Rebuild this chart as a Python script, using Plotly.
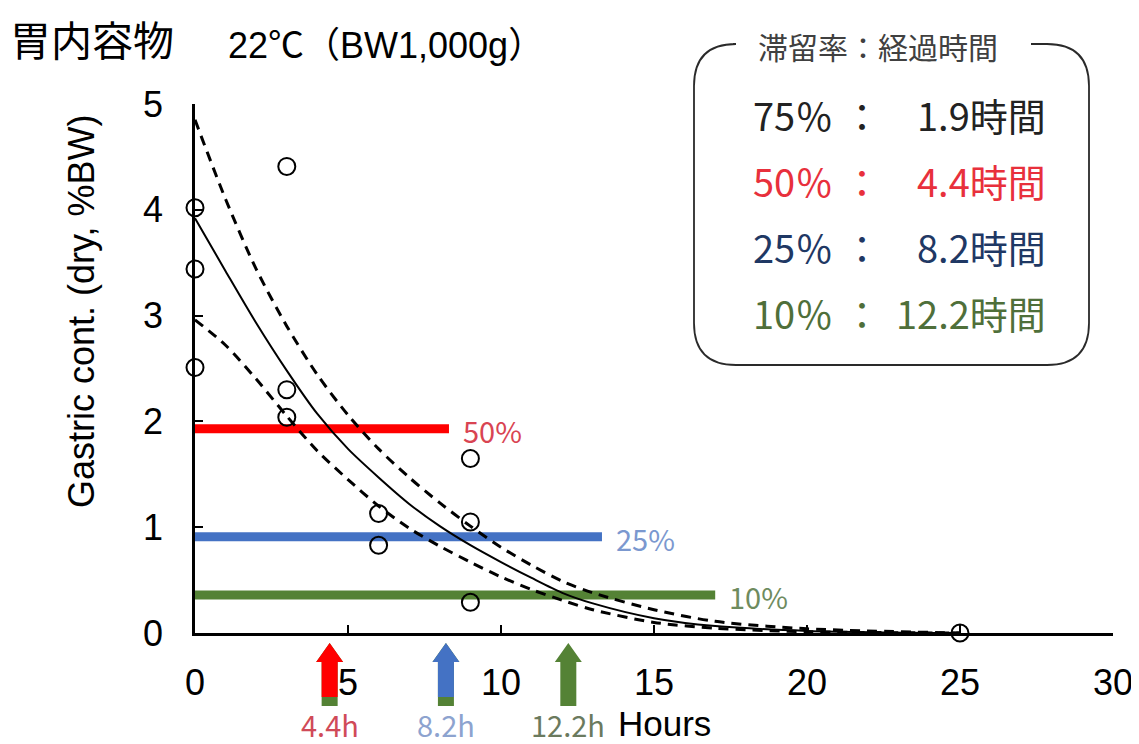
import plotly.graph_objects as go

# ---------------- data ----------------
obs_hours = [0, 0, 0, 3, 3, 3, 6, 6, 9, 9, 9, 25]
obs_content = [4.02, 3.44, 2.51, 4.41, 2.30, 2.04, 1.13, 0.83, 1.65, 1.05, 0.29, 0.0]

fit_hours = [0, 1, 2, 3, 4, 5, 6, 7, 8, 9, 10, 11, 12, 13, 15, 17, 20, 25]
fit_mean = [3.92, 3.42, 2.93, 2.48, 2.07, 1.74, 1.47, 1.22, 1.01, 0.83, 0.67, 0.52, 0.38, 0.28, 0.14, 0.065, 0.02, 0.0]
fit_upper = [4.85, 4.10, 3.44, 2.90, 2.44, 2.06, 1.74, 1.47, 1.23, 1.01, 0.81, 0.64, 0.49, 0.38, 0.22, 0.11, 0.04, 0.0]
fit_lower = [2.96, 2.72, 2.40, 2.05, 1.72, 1.45, 1.20, 0.99, 0.82, 0.67, 0.53, 0.41, 0.31, 0.22, 0.10, 0.045, 0.012, 0.0]

level_labels = ["50%", "25%", "10%"]
level_values = [1.93, 0.91, 0.36]
level_bar_end = [8.3, 13.3, 17.0]

arrow_hours = [4.4, 8.2, 12.2]
arrow_labels = ["4.4h", "8.2h", "12.2h"]

table_pct = ["75％", "50％", "25％", "10％"]
table_time = ["1.9時間", "4.4時間", "8.2時間", "12.2時間"]

x_ticks = [0, 5, 10, 15, 20, 25, 30]
y_ticks = [0, 1, 2, 3, 4, 5]

# ---------------- styles ----------------
# page body has an 8px margin, so the figure is drawn 8px smaller
OFF = 8
W, H = 1139 - OFF, 744 - OFF
ML, MR, MT, MB = 195 - OFF, 26, 104 - OFF, 111
PW, PH = W - ML - MR, H - MT - MB
X_RANGE = [0, 30]
Y_RANGE = [0, 5]
PX_PER_HOUR = PW / (X_RANGE[1] - X_RANGE[0])

LAT = "Liberation Sans, Arial, sans-serif"
CJK = "Noto Sans CJK JP, sans-serif"
MIX = "Liberation Sans, Noto Sans CJK JP, sans-serif"

bar_colors = ["#ff0000", "#4472c4", "#548235"]
level_text_colors = ["#d94452", "#7b98cf", "#6e8b5e"]
arrow_colors = ["#ff0000", "#4472c4", "#548235"]
arrow_base_color = "#548235"
arrow_text_colors = ["#d04a58", "#8da3cf", "#6b7a5e"]
table_colors = ["#222222", "#e8303c", "#1f3864", "#4f6f3a"]


def px_x(px):
    """reference-picture pixel x -> paper x"""
    return (px - OFF - ML) / PW


def px_y(py):
    """reference-picture pixel y -> paper y"""
    return (H - MB - (py - OFF)) / PH


fig = go.Figure()

# horizontal level bars
for lv, end, col in zip(level_values, level_bar_end, bar_colors):
    fig.add_trace(go.Scatter(x=[0, end], y=[lv, lv], mode="lines",
                             line=dict(color=col, width=9), cliponaxis=False,
                             hoverinfo="skip"))

# fitted curve and bands
for ys, dash, w in [(fit_upper, "10px,7px", 3), (fit_lower, "10px,7px", 3), (fit_mean, "solid", 2)]:
    fig.add_trace(go.Scatter(x=fit_hours, y=ys, mode="lines",
                             line=dict(color="black", width=w, dash=dash, shape="spline", smoothing=0.8),
                             cliponaxis=False, hoverinfo="skip"))

# observations
fig.add_trace(go.Scatter(x=obs_hours, y=obs_content, mode="markers",
                         marker=dict(symbol="circle-open", size=17, color="black",
                                     line=dict(width=2, color="black")),
                         cliponaxis=False))

annotations = []
shapes = []

# level labels
for name, lv, end, col in zip(level_labels, level_values, level_bar_end, level_text_colors):
    annotations.append(dict(x=end, y=lv, xref="x", yref="y", text=name, showarrow=False,
                            xanchor="left", yanchor="middle", xshift=12, yshift=-1,
                            font=dict(family=CJK, size=29, color=col)))

# arrows under the x axis
y_top, y_neck, y_bot, y_bot_col = px_y(643), px_y(662), px_y(706), px_y(697)
hw, sw = 13.5 / PX_PER_HOUR, 8 / PX_PER_HOUR


def arrow_path(t, bottom):
    return (f"M {t - sw},{bottom} L {t - sw},{y_neck} L {t - hw},{y_neck} L {t},{y_top} "
            f"L {t + hw},{y_neck} L {t + sw},{y_neck} L {t + sw},{bottom} Z")


for t, lab, col, tcol in zip(arrow_hours, arrow_labels, arrow_colors, arrow_text_colors):
    shapes.append(dict(type="path", xref="x", yref="paper", path=arrow_path(t, y_bot),
                       fillcolor=arrow_base_color, line=dict(width=0), layer="above"))
    if col != arrow_base_color:
        shapes.append(dict(type="path", xref="x", yref="paper", path=arrow_path(t, y_bot_col),
                           fillcolor=col, line=dict(width=0), layer="above"))
    annotations.append(dict(x=t, y=px_y(724), xref="x", yref="paper", text=lab, showarrow=False,
                            xanchor="center", yanchor="middle",
                            font=dict(family=CJK, size=29, color=tcol)))

annotations.append(dict(x=px_x(617), y=px_y(723), xref="paper", yref="paper", text="Hours",
                        showarrow=False, xanchor="left", yanchor="middle", borderpad=0,
                        font=dict(family=LAT, size=35, color="black")))

# y axis title
annotations.append(dict(x=px_x(81), y=px_y(312), xref="paper", yref="paper",
                        text="Gastric cont. (dry, %BW)", textangle=-90, showarrow=False,
                        xanchor="center", yanchor="middle",
                        font=dict(family=LAT, size=36, color="black")))

# titles
annotations.append(dict(x=px_x(8), y=px_y(38), xref="paper", yref="paper", text="胃内容物",
                        showarrow=False, xanchor="left", yanchor="middle",
                        font=dict(family=CJK, size=41, color="black")))
annotations.append(dict(x=px_x(226), y=px_y(45), xref="paper", yref="paper", text="22℃（BW1,000g）",
                        showarrow=False, xanchor="left", yanchor="middle",
                        font=dict(family=MIX, size=36, color="black")))

# legend box (rounded, gap at top for heading)
BL, BR, BT, BB, R = 694, 1089, 44, 365, 42
GX1, GX2 = 733, 1031
pts = [
    ("M", [(GX2, BT)]),
    ("L", [(BR - R, BT)]),
    ("Q", [(BR, BT), (BR, BT + R)]),
    ("L", [(BR, BB - R)]),
    ("Q", [(BR, BB), (BR - R, BB)]),
    ("L", [(BL + R, BB)]),
    ("Q", [(BL, BB), (BL, BB - R)]),
    ("L", [(BL, BT + R)]),
    ("Q", [(BL, BT), (BL + R, BT)]),
    ("L", [(GX1, BT)]),
]
path = " ".join(cmd + " " + " ".join(f"{px_x(a):.5f},{px_y(b):.5f}" for a, b in pp) for cmd, pp in pts)
shapes.append(dict(type="path", xref="paper", yref="paper", path=path,
                   line=dict(color="#2a2a2a", width=1.8), layer="above"))

annotations.append(dict(x=px_x(878), y=px_y(46), xref="paper", yref="paper", text="滞留率：経過時間",
                        showarrow=False, xanchor="center", yanchor="middle",
                        font=dict(family=CJK, size=30, color="#404040")))

row_y = [115, 180, 246, 312]
for pct, tm, col, ry in zip(table_pct, table_time, table_colors, row_y):
    annotations.append(dict(x=px_x(751), y=px_y(ry), xref="paper", yref="paper", text=pct,
                            showarrow=False, xanchor="left", yanchor="middle",
                            font=dict(family=CJK, size=38, color=col)))
    annotations.append(dict(x=px_x(862), y=px_y(ry), xref="paper", yref="paper", text="：",
                            showarrow=False, xanchor="center", yanchor="middle",
                            font=dict(family=CJK, size=38, color=col)))
    annotations.append(dict(x=px_x(1048), y=px_y(ry), xref="paper", yref="paper", text=tm,
                            showarrow=False, xanchor="right", yanchor="middle",
                            font=dict(family=CJK, size=38, color=col)))

axis_common = dict(showline=True, linecolor="black", linewidth=2.5, ticks="inside",
                   ticklen=8, tickwidth=2, tickcolor="black", showgrid=False, zeroline=False,
                   tickfont=dict(family=LAT, size=36, color="black"), fixedrange=True)

fig.update_layout(
    width=W, height=H,
    margin=dict(l=ML, r=MR, t=MT, b=MB, autoexpand=False),
    paper_bgcolor="white", plot_bgcolor="white",
    showlegend=False,
    xaxis=dict(range=X_RANGE, tickvals=x_ticks, ticklabelstandoff=16, **axis_common),
    yaxis=dict(range=Y_RANGE, tickvals=y_ticks, ticklabelstandoff=22, **axis_common),
    annotations=annotations,
    shapes=shapes,
)

fig.write_html("out.html")
